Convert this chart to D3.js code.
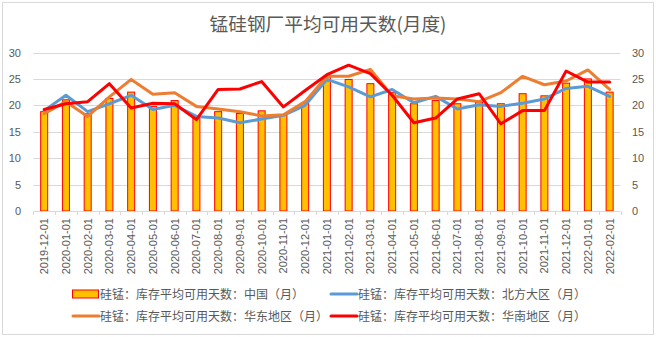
<!DOCTYPE html>
<html><head><meta charset="utf-8">
<script src="https://cdn.jsdelivr.net/npm/d3@7"></script>
<style>body{margin:0;background:#fff;}svg{display:block;}</style>
</head><body>
<script>
const categories = ["2019-12-01","2020-01-01","2020-02-01","2020-03-01","2020-04-01","2020-05-01","2020-06-01","2020-07-01","2020-08-01","2020-09-01","2020-10-01","2020-11-01","2020-12-01","2021-01-01","2021-02-01","2021-03-01","2021-04-01","2021-05-01","2021-06-01","2021-07-01","2021-08-01","2021-09-01","2021-10-01","2021-11-01","2021-12-01","2022-01-01","2022-02-01"];
const chinaBars = [18.8,21.05,18.4,21.3,22.5,19.8,20.9,17.6,18.8,18.45,18.96,18.2,20.4,25.4,24.9,24.1,22.4,20.3,20.9,20.3,20.6,20.3,22.2,21.8,24.2,25.0,22.5];
const northLine = [19.0,21.9,18.8,20.3,21.9,19.2,20.0,17.9,17.6,16.7,17.4,18.1,20.0,24.9,23.5,21.6,23.0,20.5,21.7,19.3,20.1,19.8,20.4,21.2,23.2,23.6,21.7];
const eastLine = [18.4,20.7,17.9,21.6,24.9,22.1,22.4,19.8,19.3,18.8,18.0,18.2,20.7,25.5,25.5,26.8,21.8,21.2,21.4,21.2,20.7,22.4,25.5,23.9,24.6,26.7,23.0];
const southLine = [19.2,20.3,20.7,24.1,19.5,20.4,20.3,17.3,23.0,23.1,24.5,19.7,22.8,25.8,27.6,26.0,21.9,16.7,17.6,21.2,22.2,16.5,19.0,19.0,26.5,24.4,24.4];
const yTicks = [0,5,10,15,20,25,30];
const title = "锰硅钢厂平均可用天数(月度)";
const legendNames = ["硅锰：库存平均可用天数：中国（月）","硅锰：库存平均可用天数：北方大区（月）","硅锰：库存平均可用天数：华东地区（月）","硅锰：库存平均可用天数：华南地区（月）"];

const W = 656, H = 337;
const cjk = "'Noto Sans CJK SC', sans-serif";
const num = "'Liberation Sans', Arial, sans-serif";
const grey = "#595959";
const svg = d3.select("body").append("svg").attr("width", W).attr("height", H);
svg.append("rect").attr("x",0).attr("y",0).attr("width",W).attr("height",H).attr("fill","#fff");
svg.append("rect").attr("x",2.5).attr("y",2.5).attr("width",W-5).attr("height",H-5)
  .attr("fill","none").attr("stroke","#d9d9d9");

const x = d3.scaleBand().domain(categories).range([33.3, 620.5]).paddingInner(0).paddingOuter(0);
const y = d3.scaleLinear().domain([0,30]).range([211, 52.5]);

// grid
svg.append("g").selectAll("line").data(yTicks.filter(d=>d>0)).join("line")
  .attr("x1",33.3).attr("x2",620.5).attr("y1",d=>Math.round(y(d))+0.5).attr("y2",d=>Math.round(y(d))+0.5)
  .attr("stroke","#d9d9d9").attr("stroke-width",1);

// y labels
svg.append("g").selectAll("text").data(yTicks).join("text")
  .attr("x",21).attr("y",d=>y(d)+4).attr("text-anchor","end")
  .attr("font-family",num).attr("font-size",11).attr("fill",grey).text(d=>d);
svg.append("g").selectAll("text").data(yTicks).join("text")
  .attr("x",632).attr("y",d=>y(d)+4).attr("text-anchor","start")
  .attr("font-family",num).attr("font-size",11).attr("fill",grey).text(d=>d);

// bars
const bw = 7;
svg.append("g").selectAll("rect").data(chinaBars).join("rect")
  .attr("x",(d,i)=>x(categories[i])+x.bandwidth()/2-bw/2)
  .attr("y",d=>y(d)).attr("width",bw).attr("height",d=>y(0)-y(d))
  .attr("fill","#FFC000").attr("stroke","#FF0000").attr("stroke-width",1);

// x axis
const baseY = Math.round(y(0))+0.5;
svg.append("line").attr("x1",33.3).attr("x2",620.5).attr("y1",baseY).attr("y2",baseY).attr("stroke","#d9d9d9");
const bounds = categories.map(c=>x(c)).concat([x.range()[1]]);
svg.append("g").selectAll("line").data(bounds).join("line")
  .attr("x1",d=>Math.round(d)+0.5).attr("x2",d=>Math.round(d)+0.5).attr("y1",baseY).attr("y2",baseY+3.5)
  .attr("stroke","#d9d9d9");
svg.append("g").selectAll("text").data(categories).join("text")
  .attr("transform",d=>`translate(${x(d)+x.bandwidth()/2+4},218) rotate(-90)`)
  .attr("text-anchor","end").attr("font-family",num).attr("font-size",11).attr("fill",grey).text(d=>d);

// lines
const lineGen = d3.line().x((d,i)=>x(categories[i])+x.bandwidth()/2).y(d=>y(d));
const series = [
  {data:northLine, color:"#5B9BD5", w:3},
  {data:eastLine, color:"#ED7D31", w:3},
  {data:southLine, color:"#FF0000", w:3}
];
series.forEach(s=>{
  svg.append("path").attr("d",lineGen(s.data)).attr("fill","none")
    .attr("stroke",s.color).attr("stroke-width",s.w).attr("stroke-linejoin","round").attr("stroke-linecap","round");
});

// title
svg.append("text").attr("x",328).attr("y",31).attr("text-anchor","middle")
  .attr("font-family",cjk).attr("font-size",18.7).attr("fill",grey).text(title);

// legend
const leg = [
  {x:72, y:294, type:"bar", color:"#FFC000", name:legendNames[0]},
  {x:330, y:294, type:"line", color:"#5B9BD5", name:legendNames[1]},
  {x:72, y:316, type:"line", color:"#ED7D31", name:legendNames[2]},
  {x:330, y:316, type:"line", color:"#FF0000", name:legendNames[3]}
];
leg.forEach(l=>{
  if(l.type==="bar"){
    svg.append("rect").attr("x",l.x+0.5).attr("y",l.y-4).attr("width",26).attr("height",8)
      .attr("fill","#FFC000").attr("stroke","#FF0000").attr("stroke-width",1);
  } else {
    svg.append("line").attr("x1",l.x+1).attr("x2",l.x+27).attr("y1",l.y).attr("y2",l.y)
      .attr("stroke",l.color).attr("stroke-width",3).attr("stroke-linecap","round");
  }
  svg.append("text").attr("x",l.x+28).attr("y",l.y+4.5).attr("font-family",cjk).attr("font-size",12)
    .attr("fill",grey).text(l.name);
});
</script>
</body></html>
